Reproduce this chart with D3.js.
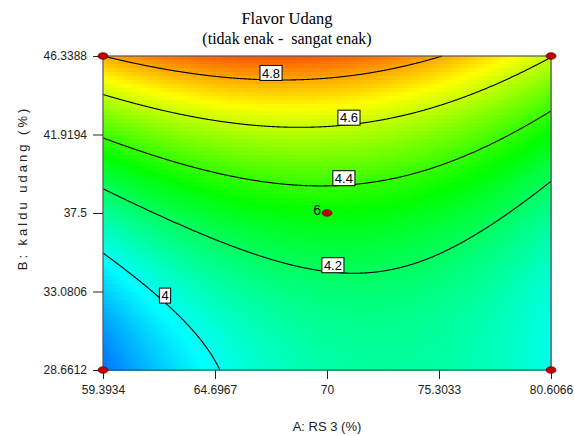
<!DOCTYPE html>
<html lang="en">
  <head>
    <meta charset="UTF-8" />
    <title>Flavor Udang</title>
    <script src="https://d3js.org/d3.v7.min.js"></script>
    <style>
      body { margin: 0; background: #fff; }
      svg { display: block; }
    </style>
  </head>
  <body>
    <div id="chart"></div>
    <script>
      // axis ticks (real units)
      const xTicks = [59.3934, 64.6967, 70, 75.3033, 80.6066];
      const yTicks = [28.6612, 33.0806, 37.5, 41.9194, 46.3388];
      // coding: centre and step of one coded unit
      const xCoding = [70, 7.5];
      const yCoding = [37.5, 6.25];
      // quadratic model in coded units: b0, A, B, AB, A^2, B^2
      const coef = [4.3254, 0.0054, 0.284, -0.0524, -0.1001, 0.0879];
      // contour levels and where their labels sit (A value)
      const levels = [4, 4.2, 4.4, 4.6, 4.8];
      const labelAt = [62.33, 70.28, 70.8, 71.04, 67.35];
      // design points
      const ptA = [59.3934, 80.6066, 59.3934, 80.6066, 70];
      const ptB = [28.6612, 28.6612, 46.3388, 46.3388, 37.5];
      const ptLabel = ["", "", "", "", "6"];
      // colour ramp
      const colorStops = [3.63, 3.98, 4.33, 4.68, 5.03];
      const colorRange = ["#0000ff", "#00ffff", "#00ff00", "#ffff00", "#ff0000"];

      const W = 574, H = 436;
      const margin = { top: 56, right: 23, bottom: 66, left: 103 };
      const width = W - margin.left - margin.right;
      const height = H - margin.top - margin.bottom;
      const sans = "Liberation Sans, Arial, sans-serif";
      const serif = "Liberation Serif, Times New Roman, serif";

      const svg = d3.select("#chart").append("svg")
        .attr("width", W).attr("height", H);

      const x = d3.scaleLinear().domain([xTicks[0], xTicks[4]]).range([0, width]);
      const y = d3.scaleLinear().domain([yTicks[0], yTicks[4]]).range([height, 0]);
      const color = d3.scaleLinear().domain(colorStops).range(colorRange).clamp(true);

      function model(A, B) {
        const a = (A - xCoding[0]) / xCoding[1];
        const b = (B - yCoding[0]) / yCoding[1];
        return coef[0] + coef[1] * a + coef[2] * b + coef[3] * a * b + coef[4] * a * a + coef[5] * b * b;
      }

      const g = svg.append("g").attr("transform", `translate(${margin.left},${margin.top})`);

      // raster of the surface
      const nx = 112, ny = 80;
      const cells = [];
      for (let i = 0; i < nx; i++) {
        for (let j = 0; j < ny; j++) {
          const A0 = xTicks[0] + (xTicks[4] - xTicks[0]) * i / nx;
          const A1 = xTicks[0] + (xTicks[4] - xTicks[0]) * (i + 1) / nx;
          const B0 = yTicks[0] + (yTicks[4] - yTicks[0]) * j / ny;
          const B1 = yTicks[0] + (yTicks[4] - yTicks[0]) * (j + 1) / ny;
          cells.push({ A0, A1, B0, B1, v: model((A0 + A1) / 2, (B0 + B1) / 2) });
        }
      }
      g.append("g").selectAll("rect").data(cells).join("rect")
        .attr("x", d => x(d.A0))
        .attr("y", d => y(d.B1))
        .attr("width", d => x(d.A1) - x(d.A0) + 0.5)
        .attr("height", d => y(d.B0) - y(d.B1) + 0.5)
        .attr("fill", d => color(d.v))
        .attr("shape-rendering", "crispEdges");

      // contour lines: solve model(A, B) = level for B at each A
      function rootB(A, L) {
        const lo = yTicks[0], hi = yTicks[4], steps = 60;
        let prevB = lo, prevF = model(A, lo) - L;
        for (let k = 1; k <= steps; k++) {
          const B = lo + (hi - lo) * k / steps;
          const fB = model(A, B) - L;
          if (prevF === 0) return prevB;
          if (prevF * fB <= 0) {
            let a = prevB, b = B, fa = prevF;
            for (let it = 0; it < 40; it++) {
              const m = (a + b) / 2, fm = model(A, m) - L;
              if (fa * fm <= 0) b = m; else { a = m; fa = fm; }
            }
            return (a + b) / 2;
          }
          prevB = B; prevF = fB;
        }
        return null;
      }

      const line = d3.line().x(d => x(d[0])).y(d => y(d[1]));
      const nSample = 800;
      levels.forEach((L, li) => {
        const pts = [];
        let prevA = null, prevHas = false;
        for (let k = 0; k <= nSample; k++) {
          const A = xTicks[0] + (xTicks[4] - xTicks[0]) * k / nSample;
          const b = rootB(A, L);
          const has = b !== null;
          if (k > 0 && has !== prevHas) {
            // find the edge crossing between prevA and A
            let a0 = prevA, a1 = A;
            for (let it = 0; it < 40; it++) {
              const m = (a0 + a1) / 2;
              if ((rootB(m, L) !== null) === prevHas) a0 = m; else a1 = m;
            }
            const aIn = prevHas ? a0 : a1;
            const bIn = rootB(aIn, L);
            if (bIn !== null) pts.push([aIn, bIn]);
          }
          if (has) pts.push([A, b]);
          prevA = A; prevHas = has;
        }
        g.append("path").datum(pts)
          .attr("d", line)
          .attr("fill", "none")
          .attr("stroke", "#000")
          .attr("stroke-width", 1.1);
      });

      // contour labels (box sits just above the line)
      levels.forEach((L, li) => {
        const A = labelAt[li];
        const B = rootB(A, L);
        if (B === null) return;
        const lg = g.append("g").attr("transform", `translate(${x(A)},${y(B) - 7})`);
        const txt = lg.append("text")
          .text(d3.format("")(L))
          .attr("text-anchor", "middle")
          .attr("dy", "0.36em")
          .attr("font-family", sans)
          .attr("font-size", "13px")
          .attr("fill", "#000");
        const bb = txt.node().getBBox();
        lg.insert("rect", "text")
          .attr("x", bb.x - 2).attr("y", -7.5)
          .attr("width", bb.width + 4).attr("height", 15)
          .attr("fill", "#fff").attr("stroke", "#000").attr("stroke-width", 1);
      });

      // frame
      g.append("rect").attr("width", width).attr("height", height)
        .attr("fill", "none").attr("stroke", "#555").attr("stroke-width", 1.2);

      // axes
      const xAxis = g.append("g").attr("transform", `translate(0,${height})`)
        .call(d3.axisBottom(x).tickValues(xTicks).tickFormat(d => d3.format("")(d)).tickSize(9).tickPadding(6));
      const yAxis = g.append("g")
        .call(d3.axisLeft(y).tickValues(yTicks).tickFormat(d => d3.format("")(d)).tickSize(10).tickPadding(6));
      [xAxis, yAxis].forEach(ax => {
        ax.select(".domain").remove();
        ax.selectAll(".tick line").attr("stroke", "#222");
        ax.selectAll(".tick text")
          .attr("font-family", sans)
          .attr("font-size", "12px")
          .attr("fill", "#222");
      });

      // design points
      const pts = ptA.map((A, i) => ({ A, B: ptB[i], label: ptLabel[i] }));
      g.append("g").selectAll("ellipse").data(pts).join("ellipse")
        .attr("cx", d => x(d.A)).attr("cy", d => y(d.B))
        .attr("rx", 5).attr("ry", 3.3)
        .attr("fill", "#c00000").attr("stroke", "#700000").attr("stroke-width", 0.8);
      g.append("g").selectAll("text").data(pts.filter(d => d.label)).join("text")
        .attr("x", d => x(d.A) - 6).attr("y", d => y(d.B) + 2)
        .attr("text-anchor", "end")
        .attr("font-family", sans)
        .attr("font-size", "14px")
        .text(d => d.label);

      // titles
      svg.append("text").attr("x", 287).attr("y", 24)
        .attr("text-anchor", "middle")
        .attr("font-family", serif)
        .attr("font-size", "16.5px")
        .text("Flavor Udang");
      svg.append("text").attr("x", 287).attr("y", 44)
        .attr("text-anchor", "middle")
        .attr("font-family", serif)
        .attr("font-size", "16px")
        .style("white-space", "pre")
        .text("(tidak enak -  sangat enak)");

      svg.append("text").attr("x", 327).attr("y", 431)
        .attr("text-anchor", "middle")
        .attr("font-family", sans)
        .attr("font-size", "13px")
        .attr("fill", "#222")
        .text("A: RS 3 (%)");
      svg.append("text")
        .attr("transform", "translate(27,188) rotate(-90)")
        .attr("text-anchor", "middle")
        .attr("font-family", sans)
        .attr("font-size", "13px")
        .attr("letter-spacing", "3px")
        .attr("fill", "#222")
        .text("B: kaldu udang (%)");
    </script>
  </body>
</html>
